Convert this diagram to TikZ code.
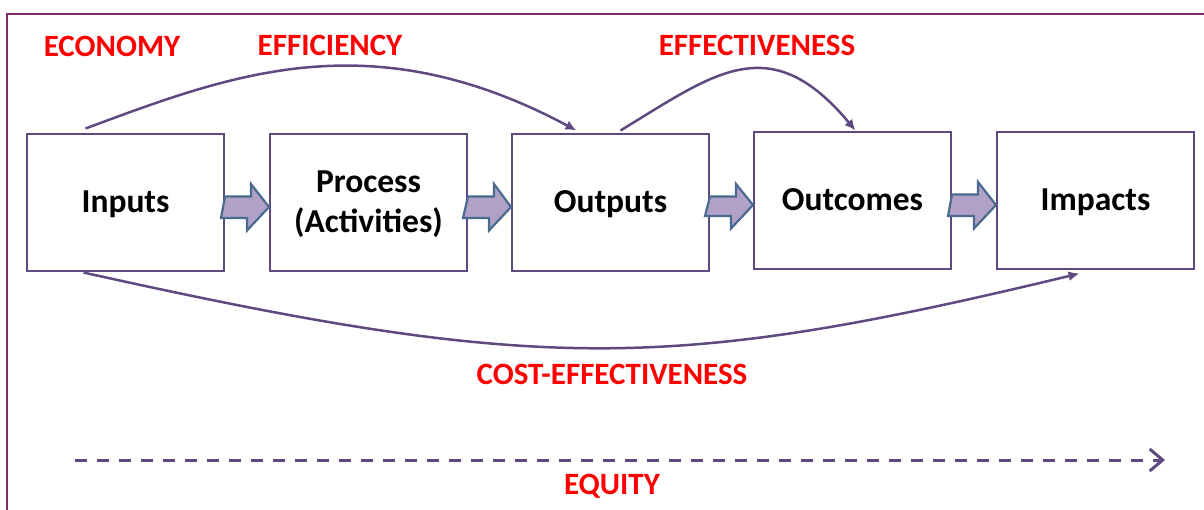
\documentclass[tikz,border=0pt]{standalone}
\usepackage{fontspec}
\setmainfont{Carlito}
\usetikzlibrary{arrows.meta}
\definecolor{framepurple}{HTML}{7E2A6C}
\definecolor{boxline}{HTML}{5E4A80}
\definecolor{arrowfill}{HTML}{B2A1C7}
\definecolor{arrowline}{HTML}{4A6A8F}
\definecolor{labelred}{HTML}{FF0000}

\begin{document}
\begin{tikzpicture}[x=1pt,y=-1pt,
    stage/.style={draw=boxline,line width=2pt,minimum width=197pt,minimum height=137pt,inner sep=0pt,align=center,text height=28.6pt,text depth=7pt,font=\fontsize{33.5}{40}\selectfont\bfseries},
    crit/.style={text=labelred,font=\fontsize{31}{34}\selectfont\bfseries},
    link/.style={draw=boxline,line width=2.5pt,-{Latex[length=11pt,width=10pt]}},
    push/.style={draw=arrowline,fill=arrowfill,line width=2.2pt,line join=miter}]
\useasboundingbox (0,0) rectangle (1204,509);
\draw[framepurple,line width=2.5pt] (7,520) -- (7,14) -- (1215,14);

\begin{scope}
    \node[stage] (inputs) at (125.5,202) {Inputs};
    \node[stage,text height=70.6pt,text depth=9pt] (process) at (368.5,202) {Process\\(Activities)};
    \node[stage] (outputs) at (610.5,202) {Outputs};
    \node[stage] (outcomes) at (852.5,200) {Outcomes};
    \node[stage] (impacts) at (1095.5,200) {Impacts};
    \foreach \a/\b in {inputs/process,process/outputs,outputs/outcomes,outcomes/impacts}{
    \draw[push] ([yshift=-5pt]\a.east) ++(0,-10.5) -- ++(26,0) -- ++(0,-12.5) -- ([yshift=-5pt]\b.west) -- ++(-22,23.5) -- ++(0,-12.5) -- ++(-26,0) -- cycle;}
\end{scope}

\draw[link] ([shift={(-40,-4)}]inputs.north) .. controls (230,75) and (370,20) .. ([shift={(-34,-2)}]outputs.north);
\draw[link] ([shift={(10,-2)}]outputs.north) .. controls (715,73) and (770,28) .. ([shift={(3,0)}]outcomes.north);
\draw[link] ([shift={(-42,1)}]inputs.south) .. controls (540,374) and (670,372) .. ([shift={(-16,4)}]impacts.south);

\coordinate (eqstart) at (75,460);
\coordinate (eqend) at (1165,460);
\draw[boxline,line width=3pt,dash pattern=on 12pt off 10pt,-{Straight Barb[length=13pt,width=22pt,line width=3pt]}] (eqstart) -- (eqend);

\node[crit] (economy) at (112,46) {ECONOMY};
\node[crit] (efficiency) at (330,45) {EFFICIENCY};
\node[crit] (effectiveness) at (757,45) {EFFECTIVENESS};
\node[crit] (costeff) at (612,374) {COST-EFFECTIVENESS};
\node[crit] (equity) at (612,486) {EQUITY};
\end{tikzpicture}
\end{document}
